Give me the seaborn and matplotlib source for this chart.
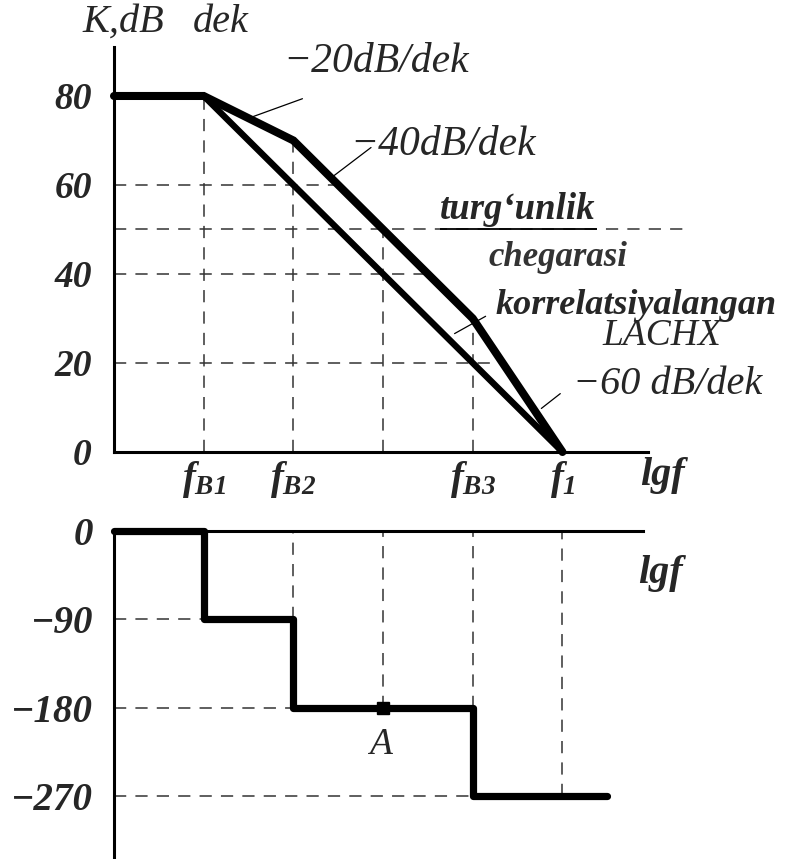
import numpy as np
import matplotlib
matplotlib.use("Agg")
from matplotlib import pyplot as plt
import seaborn as sns

# break points on the lgf axis (axis origin = 0, one grid step per column)
freq_pos = [0, 1, 2, 4, 5]
freq_labels = ["$f_{B1}$", "$f_{B2}$", "$f_{B3}$", "$f_{1}$"]
freq_ticks = [1, 2, 4, 5]

# LACHX (upper: initial, lower: corrected)
k_real = [80, 80, 70, 30, 0]
k_corr_pos = [0, 1, 5]
k_corr = [80, 80, 0]
k_ticks = [0, 20, 40, 60, 80]
k_grid = [60, 40, 20]
k_stability = 50

# phase response (steps)
phase_pos = [0, 1, 2, 4, 5.5]
phase = [0, -90, -180, -270, -270]
phase_ticks = [0, -90, -180, -270]
phase_tick_labels = ["0", "\u221290", "\u2212180", "\u2212270"]
point_a = (3, -180)

sns.set_style("white")
plt.rcParams["font.family"] = ["Liberation Serif", "DejaVu Serif"]
plt.rcParams["mathtext.fontset"] = "custom"
plt.rcParams["mathtext.it"] = "Liberation Serif:italic:bold"
plt.rcParams["mathtext.rm"] = "Liberation Serif:italic:bold"

W, H = 786, 859
fig = plt.figure(figsize=(W / 100, H / 100), dpi=100)
ax1 = fig.add_axes([0, 359 / H, 1, 500 / H])
ax2 = fig.add_axes([0, 0, 1, 359 / H])
xlim = (-1.271, 7.492)
dash = (0, (8, 6))
grid_kw = dict(color="#333333", linewidth=1.1, linestyle=dash)
lab_kw = dict(fontstyle="italic", fontweight="bold", fontsize=27)

# ---------- top: amplitude ----------
ax1.set_xlim(*xlim)
ax1.set_ylim(-10.79, 101.57)
for s in ["top", "right"]:
    ax1.spines[s].set_visible(False)
ax1.spines["left"].set_position(("data", 0))
ax1.spines["bottom"].set_position(("data", 0))
ax1.spines["left"].set_bounds(0, 91)
ax1.spines["bottom"].set_bounds(0, 5.95)
for s in ["left", "bottom"]:
    ax1.spines[s].set_linewidth(2.2)
    ax1.spines[s].set_color("black")

# dashed guides up to the upper curve
k_at_pos = np.interp([1, 2, 3, 4], freq_pos, k_real)
ax1.vlines([1, 2, 3, 4], 0, k_at_pos, **grid_kw)
x_at_k = np.interp(k_grid, k_real[::-1], freq_pos[::-1])
ax1.hlines(k_grid, 0, x_at_k, **grid_kw)
ax1.hlines(k_stability, 0, 6.37, **grid_kw)
ax1.hlines(k_stability, 3.63, 5.38, color="black", linewidth=1.3)

sns.lineplot(x=freq_pos, y=k_real, ax=ax1, color="black", linewidth=5.8,
             estimator=None, sort=False, solid_joinstyle="miter")
sns.lineplot(x=k_corr_pos, y=k_corr, ax=ax1, color="black", linewidth=4.6,
             estimator=None, sort=False)

ax1.set_yticks(k_ticks)
ax1.set_yticklabels([str(v) for v in k_ticks], **lab_kw)
ax1.tick_params(axis="y", direction="inout", length=12, width=1.5, pad=10)
ax1.set_xticks(freq_ticks)
ax1.set_xticklabels(freq_labels, fontsize=28)
ax1.tick_params(axis="x", length=0, pad=5)

ax1.text(-0.346, 96.6, "K,dB", fontstyle="italic", fontsize=29, va="center")
ax1.text(0.88, 96.6, "dek", fontstyle="italic", fontsize=29, va="center")
ax1.text(1.884, 87.6, "\u221220dB/dek", fontstyle="italic", fontsize=30, va="center")
ax1.text(2.63, 69.0, "\u221240dB/dek", fontstyle="italic", fontsize=30, va="center")
ax1.text(3.63, 54.6, "turg\u2018unlik", va="center",
         fontstyle="italic", fontweight="bold", fontsize=26.5)
ax1.text(4.17, 43.8, "chegarasi", va="center", color="#333333",
         fontstyle="italic", fontweight="bold", fontsize=25)
ax1.text(4.25, 33.0, "korrelatsiyalangan", va="center",
         fontstyle="italic", fontweight="bold", fontsize=26)
ax1.text(5.44, 26.1, "LACHX", fontstyle="italic", fontsize=27, va="center")
ax1.text(5.12, 15.1, "\u221260 dB/dek", fontstyle="italic", fontsize=29, va="center")
ax1.text(5.86, -5.2, "lgf", va="center", fontstyle="italic",
         fontweight="bold", fontsize=29)

lead_kw = dict(arrowprops=dict(arrowstyle="-", color="black", linewidth=0.9))
ax1.annotate("", xy=(1.5, 75), xytext=(2.13, 79.6), **lead_kw)
ax1.annotate("", xy=(2.42, 61.6), xytext=(2.89, 68.8), **lead_kw)
ax1.annotate("", xy=(3.77, 26.3), xytext=(4.17, 30.8), **lead_kw)
ax1.annotate("", xy=(4.74, 9.4), xytext=(5.0, 13.5), **lead_kw)

# ---------- bottom: phase ----------
ax2.set_xlim(*xlim)
ax2.set_ylim(-334.2, 31.6)
for s in ["top", "right"]:
    ax2.spines[s].set_visible(False)
ax2.spines["left"].set_position(("data", 0))
ax2.spines["bottom"].set_position(("data", 0))
ax2.spines["left"].set_bounds(-334.2, 0)
ax2.spines["bottom"].set_bounds(0, 5.9)
for s in ["left", "bottom"]:
    ax2.spines[s].set_linewidth(2.2)
    ax2.spines[s].set_color("black")

idx = np.searchsorted(phase_pos, [2, 3, 4, 5], side="left") - 1
ax2.vlines([2, 3, 4, 5], np.array(phase)[idx], 0, **grid_kw)
ax2.hlines(phase[1:4], 0, phase_pos[1:4], **grid_kw)

sns.lineplot(x=phase_pos, y=phase, ax=ax2, color="black", linewidth=5.2,
             estimator=None, sort=False, drawstyle="steps-post")
ax2.plot([point_a[0]], [point_a[1]], marker="s", markersize=9, color="black")
ax2.text(point_a[0] - 0.03, point_a[1] - 38, "A", fontstyle="italic",
         fontsize=27, ha="center", va="center")

ax2.set_yticks(phase_ticks)
ax2.set_yticklabels(phase_tick_labels, fontstyle="italic", fontweight="bold", fontsize=28)
ax2.tick_params(axis="y", direction="inout", length=10, width=1.3, pad=10)
ax2.set_xticks([])
ax2.text(5.84, -42.8, "lgf", va="center", fontstyle="italic",
         fontweight="bold", fontsize=29)

fig.savefig("out.png", dpi=100)
